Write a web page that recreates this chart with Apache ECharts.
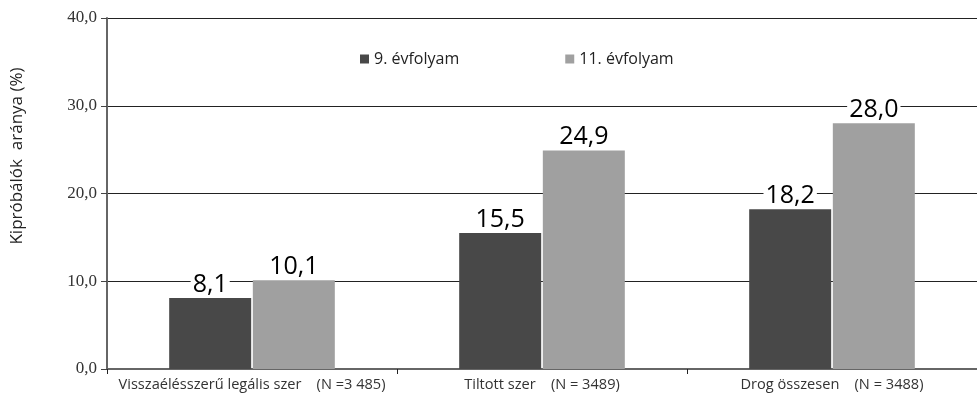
<!DOCTYPE html>
<html>
<head>
<meta charset="utf-8">
<script src="https://cdn.jsdelivr.net/npm/echarts@6/dist/echarts.min.js"></script>
<style>
  html, body { margin: 0; padding: 0; background: #fff; }
  #chart { width: 977px; height: 400px; }
</style>
</head>
<body>
<div id="chart"></div>
<script>
const categories = [
  'Visszaélésszerű legális szer    (N =3 485)',
  'Tiltott szer    (N = 3489)',
  'Drog összesen    (N = 3488)'
];
const seriesNames = ['9. évfolyam', '11. évfolyam'];
const grade9 = [8.1, 15.5, 18.2];
const grade11 = [10.1, 24.9, 28.0];
const yTicks = { min: 0, max: 40, interval: 10 };
const yTitle = 'Kipróbálók  aránya (%)';

const sans = '"Open Sans", sans-serif';
const fmt = v => v.toFixed(1).replace('.', ',');
const valueLabel = {
  show: true,
  position: 'top',
  distance: 4,
  formatter: p => fmt(p.value),
  fontFamily: sans,
  fontSize: 25,
  color: '#000',
  backgroundColor: '#fff',
  padding: [0, 2, -3, 2],
  lineHeight: 25
};

const chart = echarts.init(document.getElementById('chart'));
chart.setOption({
  animation: false,
  backgroundColor: '#fff',
  legend: {
    top: 46,
    left: 355,
    itemGap: 106,
    itemWidth: 9,
    itemHeight: 9,
    icon: 'rect',
    textStyle: { fontFamily: sans, fontSize: 16, color: '#222' },
    data: seriesNames
  },
  graphic: [{
    type: 'text',
    x: 9,
    y: 156,
    rotation: Math.PI / 2,
    style: {
      text: yTitle,
      fontFamily: sans,
      fontSize: 17,
      fill: '#222',
      align: 'center',
      verticalAlign: 'top'
    }
  }],
  grid: { left: 107, top: 18, width: 876, bottom: 31, containLabel: false },
  xAxis: {
    type: 'category',
    data: categories,
    axisLine: { lineStyle: { color: '#666', width: 2 } },
    axisTick: { show: true, length: 5, inside: false, lineStyle: { color: '#222' } },
    axisLabel: { interval: 0, margin: 8, fontFamily: sans, fontSize: 14.6, color: '#333' }
  },
  yAxis: {
    type: 'value',
    min: yTicks.min,
    max: yTicks.max,
    interval: yTicks.interval,
    axisLine: { show: true, lineStyle: { color: '#666', width: 2 } },
    axisTick: { show: true, length: 6, lineStyle: { color: '#444' } },
    axisLabel: { margin: 10, formatter: v => fmt(v), fontFamily: '"Liberation Serif", serif', fontSize: 17, color: '#333' },
    splitLine: { show: true, lineStyle: { color: '#222', width: 1 } }
  },
  series: [
    {
      name: seriesNames[0],
      type: 'bar',
      data: grade9,
      barWidth: 82,
      barGap: '2%',
      itemStyle: { color: '#484848' },
      label: valueLabel
    },
    {
      name: seriesNames[1],
      type: 'bar',
      data: grade11,
      barWidth: 82,
      barGap: '2%',
      itemStyle: { color: '#a0a0a0' },
      label: valueLabel
    }
  ]
});
</script>
</body>
</html>
